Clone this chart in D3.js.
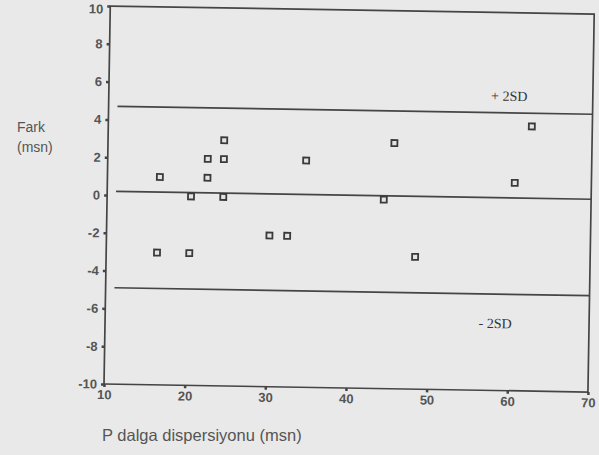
<!DOCTYPE html>
<html>
<head>
<meta charset="utf-8">
<script src="https://cdn.jsdelivr.net/npm/d3@7"></script>
<style>
  body { margin: 0; background: #e9e9e9; }
  svg { display: block; }
  .tick text { font-family: "Liberation Sans", Arial, sans-serif; fill: #555; }
</style>
</head>
<body>
<div id="chart"></div>
<script>
const WIDTH = 599;
const HEIGHT = 455;

// P dalga dispersiyonu (x) vs fark (y)
var dispX = [16.5, 16.3, 20.4, 20.3, 22.4, 22.4, 24.4, 24.4, 24.4, 30.2, 32.4, 34.6, 44.3, 45.5, 48.3, 60.5, 62.5];
var farkY = [1, -3, 0, -3, 2, 1, 3, 2, 0, -2, -2, 2, 0, 3, -3, 1, 4];

var meanDiff = 0.2;
var upperSD = 4.7;
var lowerSD = -4.9;

var xTicks = [10, 20, 30, 40, 50, 60, 70];
var yTicks = [-10, -8, -6, -4, -2, 0, 2, 4, 6, 8, 10];

var margin = { left: 104, top: 6 };
var w = 484, h = 378;
var ink = "#454545";

var svg = d3.select("#chart").append("svg")
    .attr("width", WIDTH)
    .attr("height", HEIGHT);

svg.append("rect")
    .attr("width", WIDTH)
    .attr("height", HEIGHT)
    .attr("fill", "#e9e9e9");

var x = d3.scaleLinear().domain([10, 70]).range([0, w]);
var y = d3.scaleLinear().domain([-10, 10]).range([h, 0]);

// the scan is turned a little, rotate round the origin
var g = svg.append("g")
    .attr("transform", "translate(" + margin.left + "," + (margin.top + h) + ") rotate(0.95) translate(0," + (-h) + ")");

g.append("rect")
    .attr("width", w)
    .attr("height", h)
    .attr("fill", "none")
    .attr("stroke", ink)
    .attr("stroke-width", 1.7);

var yAxis = g.append("g")
    .call(d3.axisLeft(y).tickValues(yTicks).tickFormat(d => String(d)).tickSize(3).tickSizeOuter(0).tickPadding(4));
var xAxis = g.append("g")
    .attr("transform", "translate(0," + h + ")")
    .call(d3.axisBottom(x).tickValues(xTicks).tickFormat(d => String(d)).tickSize(3).tickSizeOuter(0).tickPadding(3));

[yAxis, xAxis].forEach(a => {
  a.select(".domain").remove();
  a.selectAll(".tick line").attr("stroke", ink).attr("stroke-width", 2.5);
  a.selectAll(".tick text").attr("font-size", 13).attr("font-weight", "bold").attr("fill", "#5a5a5a");
});
// top label sits at the page edge, keep it inside
yAxis.selectAll(".tick text").filter(d => d === 10).attr("dy", "0.55em");

// mean and +-2SD lines
var refLines = [meanDiff, upperSD, lowerSD];
g.selectAll(".ref")
    .data(refLines)
    .join("line")
    .attr("class", "ref")
    .attr("x1", x(11.1))
    .attr("x2", w)
    .attr("y1", d => y(d))
    .attr("y2", d => y(d))
    .attr("stroke", ink)
    .attr("stroke-width", 1.7);

g.append("text")
    .attr("x", x(57.4))
    .attr("y", y(upperSD) - 12)
    .attr("font-family", "'Liberation Serif', serif")
    .attr("font-size", 14)
    .attr("fill", "#333")
    .text("+ 2SD");

g.append("text")
    .attr("x", x(56.3))
    .attr("y", y(lowerSD) + 34)
    .attr("font-family", "'Liberation Serif', serif")
    .attr("font-size", 14)
    .attr("fill", "#333")
    .text("- 2SD");

var pts = dispX.map((d, i) => ({ x: d, y: farkY[i] }));
g.selectAll(".pt")
    .data(pts)
    .join("rect")
    .attr("class", "pt")
    .attr("x", d => x(d.x) - 3)
    .attr("y", d => y(d.y) - 3)
    .attr("width", 6)
    .attr("height", 6)
    .attr("fill", "#e4e4e4")
    .attr("stroke", "#3a3a3a")
    .attr("stroke-width", 1.8);

// axis titles
var lbl = svg.append("g")
    .attr("font-family", "'Liberation Sans', Arial, sans-serif")
    .attr("fill", "#555");
lbl.append("text").attr("x", 17).attr("y", 132).attr("font-size", 14).text("Fark");
lbl.append("text").attr("x", 17).attr("y", 152).attr("font-size", 14).text("(msn)");
lbl.append("text").attr("x", 102).attr("y", 441).attr("font-size", 16.5).text("P dalga dispersiyonu (msn)");
</script>
</body>
</html>
